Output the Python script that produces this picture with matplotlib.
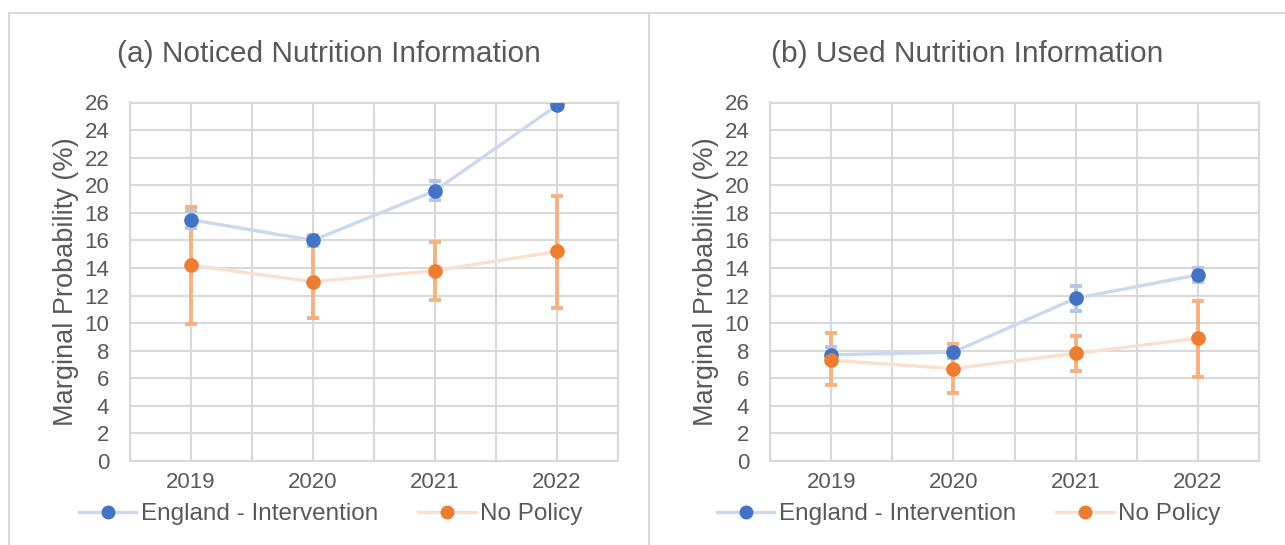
import matplotlib.pyplot as plt
from matplotlib.lines import Line2D

plt.rcParams['font.family'] = ['Liberation Sans', 'DejaVu Sans']

years = [2019, 2020, 2021, 2022]
titles = ['(a) Noticed Nutrition Information', '(b) Used Nutrition Information']

# (a) Noticed
a_eng = [17.5, 16.0, 19.6, 25.8]
a_eng_lo = [16.9, 15.6, 18.9, 25.5]
a_eng_hi = [18.1, 16.4, 20.3, 26.1]
a_np = [14.2, 13.0, 13.8, 15.2]
a_np_lo = [9.9, 10.4, 11.7, 11.1]
a_np_hi = [18.4, 15.8, 15.9, 19.2]

# (b) Used
b_eng = [7.7, 7.9, 11.8, 13.5]
b_eng_lo = [7.1, 7.5, 10.9, 13.0]
b_eng_hi = [8.3, 8.3, 12.7, 14.0]
b_np = [7.3, 6.7, 7.8, 8.9]
b_np_lo = [5.5, 4.9, 6.5, 6.1]
b_np_hi = [9.3, 8.5, 9.1, 11.6]

blue = '#4472C4'
blue_line = '#CAD8F0'
blue_err = '#B4C7E7'
orange = '#ED7D31'
orange_line = '#FBE0CF'
orange_err = '#F4B183'
grid_c = '#D9D9D9'
text_c = '#595959'

W, H = 1285, 545
fig = plt.figure(figsize=(W / 100, H / 100), dpi=100)

# panel frames
for x0 in (9, 649):
    fig.add_artist(Line2D([x0 / W, x0 / W], [0, 1 - 13 / H], color=grid_c, lw=1.5))
fig.add_artist(Line2D([9 / W, 1], [1 - 13 / H, 1 - 13 / H], color=grid_c, lw=1.5))

panels = [
    (130, 618, 9, 649, a_eng, a_eng_lo, a_eng_hi, a_np, a_np_lo, a_np_hi),
    (770, 1259, 649, 1285, b_eng, b_eng_lo, b_eng_hi, b_np, b_np_lo, b_np_hi),
]

for i, (l, r, pl, pr, eng, eng_lo, eng_hi, np_, np_lo, np_hi) in enumerate(panels):
    top, bot = 102.5, 461
    ax = fig.add_axes([l / W, 1 - bot / H, (r - l) / W, (bot - top) / H])

    eng_err = [[v - lo for v, lo in zip(eng, eng_lo)], [hi - v for v, hi in zip(eng, eng_hi)]]
    np_err = [[v - lo for v, lo in zip(np_, np_lo)], [hi - v for v, hi in zip(np_, np_hi)]]

    ax.errorbar(years, np_, yerr=np_err, fmt='none', ecolor=orange_err, elinewidth=2.8,
                capsize=4.5, capthick=2.8, zorder=3)
    ax.errorbar(years, eng, yerr=eng_err, fmt='none', ecolor=blue_err, elinewidth=2.8,
                capsize=4.5, capthick=2.8, zorder=3)
    ax.plot(years, eng, color=blue_line, lw=2.4, zorder=4)
    ax.plot(years, np_, color=orange_line, lw=2.4, zorder=4)
    ax.plot(years, eng, 'o', color=blue, ms=9.5, zorder=5)
    ax.plot(years, np_, 'o', color=orange, ms=9.5, zorder=6)

    ax.set_xlim(2018.5, 2022.5)
    ax.set_ylim(0, 26)
    ax.set_yticks(range(0, 27, 2))
    ax.set_xticks(years)
    ax.set_xticks([2018.5 + 0.5 * k for k in range(9)], minor=True)
    ax.grid(True, which='both', color=grid_c, lw=1.5)
    ax.set_axisbelow(True)
    ax.tick_params(which='both', length=0, labelsize=16, labelcolor=text_c)
    ax.tick_params(axis='x', pad=8)
    ax.tick_params(axis='y', pad=15)
    for s in ax.spines.values():
        s.set_color(grid_c)
        s.set_linewidth(1.5)
    ax.set_ylabel('Marginal Probability (%)', fontsize=19.5, color=text_c, labelpad=4)

    cx = (pl + pr) / 2 / W
    fig.text(cx, 1 - 54 / H, titles[i], ha='center', va='center', fontsize=21.5, color=text_c)

    handles = [
        Line2D([], [], color=blue_line, lw=2.4, marker='o', ms=9, mfc=blue, mec=blue),
        Line2D([], [], color=orange_line, lw=2.4, marker='o', ms=9, mfc=orange, mec=orange),
    ]
    fig.legend(handles, ['England - Intervention', 'No Policy'], loc='center',
               bbox_to_anchor=(cx + 2 / W, 1 - 514 / H), ncol=2, frameon=False, fontsize=17.5,
               labelcolor=text_c, handlelength=2.35, handletextpad=0.2, columnspacing=1.65)

fig.savefig('out.png', dpi=100)
